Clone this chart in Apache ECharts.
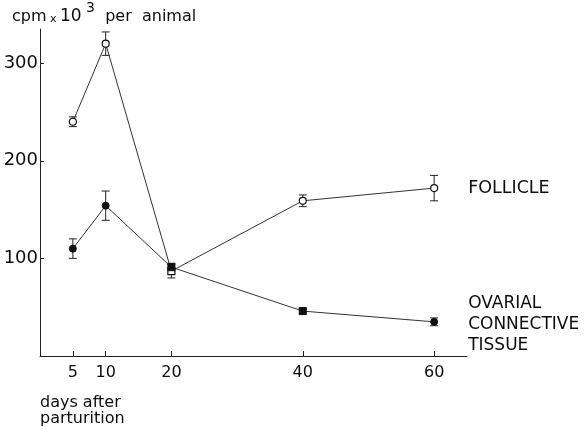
<!DOCTYPE html>
<html>
<head>
<meta charset="utf-8">
<script src="https://cdn.jsdelivr.net/npm/echarts@6/dist/echarts.min.js"></script>
<style>html,body{margin:0;padding:0;background:#fff}#c{width:585px;height:427px}</style>
</head>
<body>
<div id="c"></div>
<script>
const days = [5, 10, 20, 40, 60];
const follicle = [240, 320, 87, 159, 172];
const follicleErr = [5, 12, 7, 6, 13];
const ovarian = [110, 154, 91, 46, 35];
const ovarianErr = [10, 15, 4, 3, 4];
const xTicks = [5, 10, 20, 40, 60];
const yTicks = [100, 200, 300];

const FONT = 'DejaVu Sans';
const INK = '#0d0d0d';

const chart = echarts.init(document.getElementById('c'), null, {renderer: 'canvas'});

function errData(vals, errs) {
  return days.map((d, i) => [d, vals[i], errs[i]]);
}
function errRender(params, api) {
  const x = api.value(0), y = api.value(1), e = api.value(2);
  const top = api.coord([x, y + e]);
  const bot = api.coord([x, y - e]);
  const w = 4;
  const st = {stroke: '#222', lineWidth: 1};
  return {
    type: 'group',
    children: [
      {type: 'line', shape: {x1: top[0], y1: top[1], x2: bot[0], y2: bot[1]}, style: st},
      {type: 'line', shape: {x1: top[0] - w, y1: top[1], x2: top[0] + w, y2: top[1]}, style: st},
      {type: 'line', shape: {x1: bot[0] - w, y1: bot[1], x2: bot[0] + w, y2: bot[1]}, style: st}
    ]
  };
}

const option = {
  animation: false,
  backgroundColor: '#fff',
  grid: {left: 40, right: 118, top: 29, bottom: 71, containLabel: false},
  xAxis: {
    type: 'value', min: 0, max: 65,
    axisLine: {show: true, lineStyle: {color: '#222', width: 1}},
    axisTick: {show: true, inside: true, length: 5, customValues: xTicks, lineStyle: {color: '#222'}},
    axisLabel: {customValues: xTicks, color: INK, fontFamily: FONT, fontSize: 16, margin: 9},
    splitLine: {show: false}
  },
  yAxis: {
    type: 'value', min: 0, max: 335,
    axisLine: {show: true, lineStyle: {color: '#222', width: 1}},
    axisTick: {show: true, inside: true, length: 4, customValues: yTicks, lineStyle: {color: '#222'}},
    axisLabel: {customValues: yTicks, color: INK, fontFamily: FONT, fontSize: 18, margin: 2},
    splitLine: {show: false}
  },
  graphic: [
    {
      type: 'text', left: 12, top: 1,
      style: {
        text: '{a|cpm}{x| x }{b|10}{s| 3}{a|  per  animal}',
        rich: {
          a: {fontFamily: FONT, fontSize: 16, fill: INK, verticalAlign: 'bottom', lineHeight: 24},
          x: {fontFamily: FONT, fontSize: 11, fill: INK, verticalAlign: 'bottom', lineHeight: 24},
          b: {fontFamily: FONT, fontSize: 17, fill: INK, verticalAlign: 'bottom', lineHeight: 24},
          s: {fontFamily: FONT, fontSize: 14, fill: INK, verticalAlign: 'top', lineHeight: 24}
        }
      }
    },
    {
      type: 'text', left: 40, top: 395,
      style: {text: 'days after\nparturition', fontFamily: FONT, fontSize: 16, lineHeight: 16, fill: INK}
    }
  ],
  series: [
    {
      type: 'line', name: 'FOLLICLE',
      data: days.map((d, i) => [d, follicle[i]]),
      symbol: (v) => v[0] === 20 ? 'rect' : 'circle',
      symbolSize: 7,
      lineStyle: {color: '#333', width: 1},
      itemStyle: {color: '#fff', borderColor: '#111', borderWidth: 1.2},
      endLabel: {show: true, formatter: 'FOLLICLE', distance: 34, color: INK, fontFamily: FONT, fontSize: 17.5},
      z: 3
    },
    {
      type: 'line', name: 'OVARIAL CONNECTIVE TISSUE',
      data: days.map((d, i) => [d, ovarian[i]]),
      symbol: (v) => (v[0] === 20 || v[0] === 40) ? 'rect' : 'circle',
      symbolSize: 7,
      lineStyle: {color: '#333', width: 1},
      itemStyle: {color: '#111', borderColor: '#111', borderWidth: 1},
      endLabel: {show: true, formatter: 'OVARIAL\nCONNECTIVE\nTISSUE', distance: 34, color: INK, fontFamily: FONT, fontSize: 17, lineHeight: 21, align: 'left', offset: [0, 3]},
      z: 3
    },
    {type: 'custom', renderItem: errRender, data: errData(follicle, follicleErr), z: 2, silent: true},
    {type: 'custom', renderItem: errRender, data: errData(ovarian, ovarianErr), z: 2, silent: true}
  ]
};
chart.setOption(option);
</script>
</body>
</html>
